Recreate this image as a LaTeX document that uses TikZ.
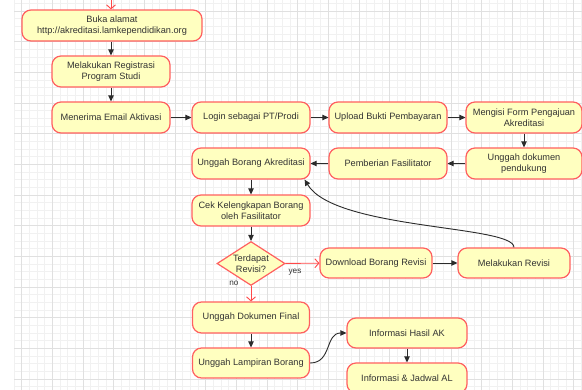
\documentclass[tikz,border=0pt]{standalone}
\usepackage{fontspec}
\setmainfont{Liberation Sans}
\usetikzlibrary{arrows.meta,shapes.geometric}
\definecolor{nodefill}{HTML}{FFFFC0}
\definecolor{nodedraw}{HTML}{FF6060}
\definecolor{txt}{HTML}{333333}
\definecolor{edgecol}{HTML}{2B2B2B}
\definecolor{redge}{HTML}{FF4848}
\definecolor{gridminor}{HTML}{F1F1F1}
\definecolor{gridmajor}{HTML}{E0E0E0}
\begin{document}
\begin{tikzpicture}[x=1pt,y=-1pt,
  state/.style={draw=nodedraw, fill=nodefill, line width=1.2pt, rounded corners=9pt,
    minimum height=31pt, minimum width=118pt, align=center, inner sep=0pt,
    font=\fontsize{9.2}{11}\selectfont, text=txt},
  decision/.style={diamond, draw=nodedraw, fill=nodefill, line width=1.2pt,
    minimum width=68pt, minimum height=44pt, inner sep=0pt, aspect=1.5, align=center,
    font=\fontsize{9.2}{11}\selectfont, text=txt},
  arr/.style={draw=edgecol, line width=0.9pt, -{Triangle[length=6pt,width=5.5pt]}},
  rarr/.style={draw=redge, line width=0.9pt, -{Straight Barb[length=4pt,width=9pt]}},
  elabel/.style={font=\fontsize{8.2}{9}\selectfont, text=txt, inner sep=0pt}]
\useasboundingbox (0,0) rectangle (582,390);
\fill[white] (0,0) rectangle (582,390);
% grid
\begin{scope}
\clip (14,0) rectangle (582,390);
\foreach \i in {0,...,75} {\draw[gridminor, line width=0.6pt] ({14+\i*7.667},0) -- ({14+\i*7.667},390);}
\foreach \i in {0,...,51} {\draw[gridminor, line width=0.6pt] (14,{3.33+\i*7.667}) -- (582,{3.33+\i*7.667});}
\foreach \i in {0,...,18} {\draw[gridmajor, line width=0.7pt] ({21.67+\i*30.67},0) -- ({21.67+\i*30.67},390);}
\foreach \i in {0,...,12} {\draw[gridmajor, line width=0.7pt] (14,{11+\i*30.67}) -- (582,{11+\i*30.67});}
\end{scope}
% nodes
\node[state, minimum width=180pt] (n1) at (112,25.5) {Buka alamat\\http://akreditasi.lamkependidikan.org};
\node[state] (n2) at (111,71.5) {Melakukan Registrasi\\Program Studi};
\node[state] (n3) at (111,117.5) {Menerima Email Aktivasi};
\node[state] (n4) at (251,117.5) {Login sebagai PT/Prodi};
\node[state] (n5) at (388,117.5) {Upload Bukti Pembayaran};
\node[state, minimum width=116pt] (n6) at (524,117.5) {Mengisi Form Pengajuan\\Akreditasi};
\node[state, minimum width=116pt] (n7) at (524,163.5) {Unggah dokumen\\pendukung};
\node[state] (n8) at (388,163.5) {Pemberian Fasilitator};
\node[state] (n9) at (251,163.5) {Unggah Borang Akreditasi};
\node[state] (n10) at (251,210.5) {Cek Kelengkapan Borang\\oleh Fasilitator};
\node[decision] (n11) at (251,263.5) {Terdapat\\Revisi?};
\node[state, minimum width=112pt, minimum height=30pt] (n12) at (376,263) {Download Borang Revisi};
\node[state, minimum width=112pt, minimum height=30pt] (n13) at (514,263) {Melakukan Revisi};
\node[state, minimum width=117pt] (n14) at (251,317.5) {Unggah Dokumen Final};
\node[state, minimum width=117pt, minimum height=30pt] (n15) at (251,363) {Unggah Lampiran Borang};
\node[state, minimum width=120pt, minimum height=30pt] (n16) at (407,333) {Informasi Hasil AK};
\node[state, minimum width=120pt, minimum height=30pt] (n17) at (407,378) {Informasi \& Jadwal AL};
% edges
\coordinate (start) at (111,0);
\draw[rarr] (start) -- (n1.north -| start);
\draw[arr] (n1.south -| n2) -- (n2);
\draw[arr] (n2) -- (n3);
\draw[arr] (n3) -- (n4);
\draw[arr] (n4) -- (n5);
\draw[arr] (n5) -- (n6);
\draw[arr] (n6) -- (n7);
\draw[arr] (n7) -- (n8);
\draw[arr] (n8) -- (n9);
\draw[arr] (n9) -- (n10);
\draw[arr] (n10) -- (n11);
\draw[rarr] (n11) -- (n12);
\draw[rarr] (n11) -- (n14);
\draw[arr] (n12) -- (n13);
\coordinate (revtip) at ([xshift=-6pt]n9.south east);
\draw[arr] (n13.north) .. controls (514,225) and (335,230) .. (revtip);
\draw[arr] (n14) -- (n15);
\draw[arr] (n15.east) .. controls (332,363) and (325,333) .. (n16.west);
\draw[arr] (n16) -- (n17);
% labels
\node[elabel] (yes) at (295,272.5) {yes};
\node[elabel] (no) at (234,283) {no};
\end{tikzpicture}
\end{document}
